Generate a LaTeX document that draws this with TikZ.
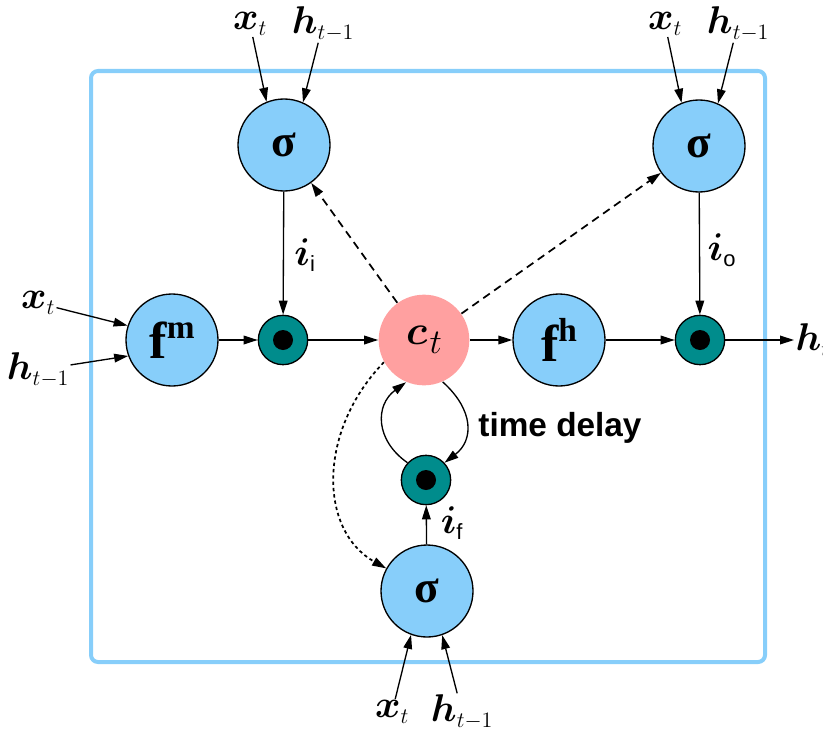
\RequirePackage{fix-cm}
\documentclass[tikz,border=0pt]{standalone}
\usepackage{amsmath}
\usepackage{bm}
\usepackage{fontspec}
\setmainfont{Liberation Serif}
\setsansfont{Liberation Sans}
\usetikzlibrary{arrows.meta}
\DeclareMathSizes{29}{29}{20}{16.5}

\tikzset{every picture/.style={line width=0.75pt}}
\tikzset{
gate/.style={circle, draw, fill={rgb, 255:red, 135; green, 206; blue, 250}, minimum size=69pt, inner sep=0pt, line width=1pt},
mult/.style={circle, draw, fill={rgb, 255:red, 0; green, 140; blue, 140}, minimum size=37pt, inner sep=0pt, line width=1pt,
  path picture={\fill [black] (path picture bounding box.center) circle (7.5pt);}},
cell/.style={circle, fill={rgb, 255:red, 255; green, 160; blue, 160}, minimum size=68pt, inner sep=0pt},
inlbl/.style={inner sep=0.75pt, font=\fontsize{29}{31}\selectfont},
flow/.style={line width=1pt, -{Triangle[length=10.5pt,width=6.5pt]}},
peep/.style={flow, line width=1.3pt, dash pattern={on 6pt off 4pt}},
}

\begin{document}
\begin{tikzpicture}[x=0.75pt,y=0.75pt,yscale=-1,xscale=1]
\useasboundingbox (0,0) rectangle (823,735);

%Rounded Rect
\draw [color={rgb, 255:red, 135; green, 206; blue, 250 }, line width=3, rounded corners=5.25] (91,71) rectangle (765,662);

%Shape: Circle
\node [gate] (sigI) at (284,145) {\fontsize{34}{34}\selectfont\bfseries σ};
%Shape: Circle
\node [gate] (sigO) at (699,146) {\fontsize{34}{34}\selectfont\bfseries σ};
%Shape: Circle
\node [gate] (sigF) at (427,591) {\fontsize{34}{34}\selectfont\bfseries σ};
%Shape: Circle
\node [gate] (fm) at (172,340) {\fontsize{39}{39}\selectfont\bfseries f\raisebox{15pt}{\fontsize{25}{25}\selectfont m}};
%Shape: Circle
\node [gate] (fh) at (559,340) {\fontsize{39}{39}\selectfont\bfseries f\raisebox{15pt}{\fontsize{25}{25}\selectfont h}};
%Shape: Circle
\node [cell] (ct) at (424,340) {{\fontsize{31}{31}\selectfont$\bm{c}$}\,\raisebox{-7pt}{\fontsize{26}{26}\selectfont$t$}};
%Shape: Circle
\node [mult] (mulI) at (283,340) {};
%Shape: Circle
\node [mult] (mulO) at (700,340) {};
%Shape: Circle
\node [mult] (mulF) at (426,480) {};

% Text Node
\node [inlbl] (xtA) at (250,24) {$\bm{x}_{\scriptscriptstyle t}$};
% Text Node
\node [inlbl] (htA) at (323,24) {$\bm{h}_{\scriptscriptstyle t-1}$};
% Text Node
\node [inlbl] (xtB) at (665,24) {$\bm{x}_{\scriptscriptstyle t}$};
% Text Node
\node [inlbl] (htB) at (738,24) {$\bm{h}_{\scriptscriptstyle t-1}$};
% Text Node
\node [inlbl] (xtL) at (38,303) {$\bm{x}_{\scriptscriptstyle t}$};
% Text Node
\node [inlbl] (htL) at (38,370) {$\bm{h}_{\scriptscriptstyle t-1}$};
% Text Node
\node [inlbl] (xtD) at (392,712) {$\bm{x}_{\scriptscriptstyle t}$};
% Text Node
\node [inlbl] (htD) at (462,712) {$\bm{h}_{\scriptscriptstyle t-1}$};
% Text Node
\node [inlbl, anchor=west] (hout) at (794,340) {$\bm{h}_{\scriptscriptstyle t}$};
% Text Node
\node [inlbl] (iI) at (305,255) {$\bm{i}_{\scriptscriptstyle\textsf{i}}$};
% Text Node
\node [inlbl] (iO) at (722,250) {$\bm{i}_{\scriptscriptstyle\textsf{o}}$};
% Text Node
\node [inlbl] (iF) at (452,523) {$\bm{i}_{\scriptscriptstyle\textsf{f}}$};
% Text Node
\node [inner sep=0.75pt, font=\fontsize{25}{25}\selectfont\sffamily\bfseries] (delay) at (560,428) {time delay};

%Straight Lines
\draw [flow] (xtA) -- (sigI.112);
\draw [flow] (htA) -- (sigI.66);
\draw [flow] (xtB) -- (sigO.112);
\draw [flow] (htB) -- (sigO.66);
\draw [flow] (xtL) -- (fm.162);
\draw [flow] (htL) -- (fm.200);
\draw [flow] (xtD) -- (sigF.250);
\draw [flow] (htD) -- (sigF.289);

%Straight Lines
\draw [flow] (fm) -- (mulI);
\draw [flow] (mulI) -- (ct);
\draw [flow] (ct) -- (fh);
\draw [flow] (fh) -- (mulO);
\draw [flow] (mulO) -- (hout.west);
\draw [flow] (sigI) -- (mulI);
\draw [flow] (sigO) -- (mulO);
\draw [flow] (sigF) -- (mulF);

%Straight Lines
\draw [peep] (ct) -- (sigI);
\draw [peep] (ct) -- (sigO);
%Curve Lines
\draw [flow, line width=1.3pt, dash pattern={on 2.5pt off 2.25pt}] (ct.209) .. controls (318,430) and (318,530) .. (sigF.151);

%Curve Lines
\draw [flow] (ct.294) .. controls (474,410) and (474,440) .. (mulF.43);
\draw [flow] (mulF.137) .. controls (375,440) and (375,405) .. (ct.247);

\end{tikzpicture}
\end{document}
